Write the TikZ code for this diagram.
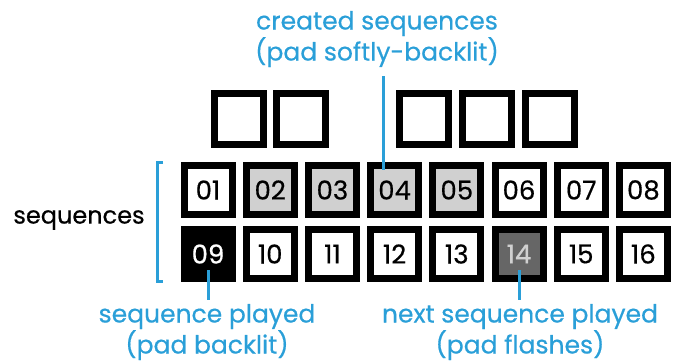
\documentclass[tikz,border=0pt]{standalone}
\usepackage{fontspec}
\setmainfont{Poppins}[FakeBold=0.5]
\usetikzlibrary{positioning, calc}
\definecolor{azzurro}{HTML}{2A9FD8}
\definecolor{grigiochiaro}{HTML}{D0D0D0}
\definecolor{grigioscuro}{HTML}{666666}

\begin{document}
\begin{tikzpicture}[
			x=1pt, y=-1pt,
			pad/.style={draw=black, line width=7pt, fill=white, minimum width=48pt, minimum height=49pt, inner sep=0pt, font=\fontsize{26}{26}\selectfont},
			padvuoto/.style={pad, minimum width=49pt, minimum height=51pt},
			creato/.style={pad, fill=grigiochiaro},
			suonato/.style={pad, fill=black, text=white},
			prossimo/.style={pad, fill=grigioscuro, text=grigiochiaro},
			etichetta/.style={text=azzurro, align=center, inner sep=1pt, font=\fontsize{25}{31}\selectfont},
			linea/.style={draw=azzurro, line width=3pt}
			]
			\useasboundingbox (0,0) rectangle (678,362);
			% Pad vuoti in alto
			\foreach \x [count=\i] in {239,301,424,487,550}
				\node[padvuoto] (v\i) at (\x,119) {};
			% Prima fila
			\foreach \n/\s [count=\i from 0] in {01/pad,02/creato,03/creato,04/creato,05/creato,06/pad,07/pad,08/pad}
				\node[\s] (p\n) at (208+62.2*\i,190) {\n};
			% Seconda fila
			\foreach \n/\s [count=\i from 0] in {09/suonato,10/pad,11/pad,12/pad,13/pad,14/prossimo,15/pad,16/pad}
				\node[\s] (p\n) at (208+62.2*\i,254) {\n};
			% Parentesi e testo a sinistra
			\node[font=\fontsize{24}{24}\selectfont] (sequenze) at (79,220) {sequences};
			\draw[linea] (163,162) -- (157,162) -- (157,281) -- (163,281);
			% Etichette
			\node[etichetta] (creati) at (377,39) {created sequences\\(pad softly-backlit)};
			\node[etichetta] (suonata) at (207,332) {sequence played\\(pad backlit)};
			\node[etichetta] (prossima) at (520,332) {next sequence played\\(pad flashes)};
			\coordinate (c04) at ($(p04.north)+(-11.6,7.5)$);
			\coordinate (c0) at (c04 |- 0,76);
			\draw[linea] (c0) -- (c04);
			\draw[linea] ($(p09.center)+(0,16)$) -- ($(p09.center)+(0,46)$);
			\draw[linea] ($(p14.center)+(0,16)$) -- ($(p14.center)+(0,46)$);
		\end{tikzpicture}
\end{document}
